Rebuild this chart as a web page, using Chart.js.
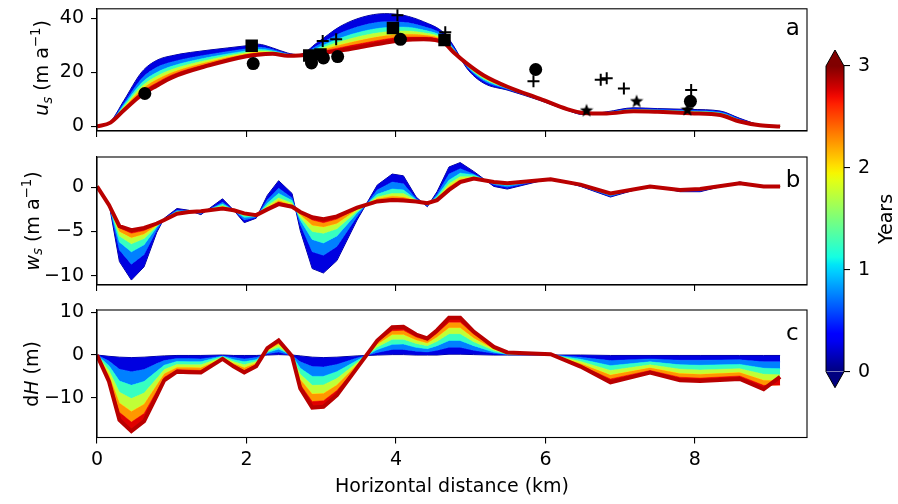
<!DOCTYPE html>
<html>
<head>
<meta charset="utf-8">
<script src="https://cdn.jsdelivr.net/npm/chart.js@4.4.0/dist/chart.umd.min.js"></script>
<style>
  body { margin: 0; background: #fff; }
  #fig { position: relative; width: 898px; height: 504px; overflow: hidden; background: #fff; }
  #fig canvas { position: absolute; }
</style>
</head>
<body>
<div id="fig">
  <canvas id="panel-a" width="830" height="145" style="left:0;top:0"></canvas>
  <canvas id="panel-b" width="830" height="150" style="left:0;top:145px"></canvas>
  <canvas id="panel-c" width="830" height="204" style="left:0;top:300px"></canvas>
  <canvas id="colorbar" width="98" height="420" style="left:800px;top:0"></canvas>
</div>
<script>
// time of each drawn curve (years)
var curveYears = [0, 0.5, 1, 1.5, 2, 2.5, 3];

var xTicks = [0, 2, 4, 6, 8];
var usTicks = [0, 20, 40];
var wsTicks = [-10, -5, 0];
var dhTicks = [-10, 0, 10];
var yearTicks = [0, 1, 2, 3];

// panel a : surface horizontal velocity
var distA = [0, 0.18, 0.36, 0.6, 0.8, 1.0, 1.5, 2.0, 2.15, 2.35, 2.55, 2.7, 2.95, 3.25, 3.55, 3.85, 4.1, 4.37, 4.64, 4.77, 4.95, 5.17, 5.5, 5.93, 6.29, 6.5, 6.82, 7.18, 7.5, 7.94, 8.34, 8.6, 8.87, 9.14];
var usYear0  = [0, 1.8, 9.6, 20.2, 24.5, 26.2, 28.3, 29.9, 30.5, 29.1, 27.2, 26.6, 31.1, 37.0, 40.5, 41.8, 41.2, 38.8, 34.7, 29.9, 21.5, 16.1, 13.4, 9.6, 6.0, 4.4, 5.4, 6.9, 6.6, 6.3, 5.7, 3.0, 0.6, 0];
var usYear05 = [0, 1.7, 8.6, 17.8, 21.9, 23.9, 26.7, 28.8, 29.4, 28.5, 26.9, 26.5, 30.0, 34.5, 37.4, 38.8, 38.6, 37.0, 33.7, 29.2, 22.0, 16.9, 13.7, 9.8, 6.1, 4.6, 5.2, 6.5, 6.3, 5.9, 5.3, 2.7, 0.5, 0];
var usYear1  = [0, 1.6, 7.9, 16.2, 20.0, 22.3, 25.6, 28.0, 28.6, 28.0, 26.7, 26.5, 29.1, 32.7, 35.2, 36.6, 36.8, 35.7, 32.9, 28.7, 22.4, 17.5, 14.0, 9.9, 6.2, 4.7, 5.1, 6.3, 6.0, 5.6, 5.0, 2.4, 0.5, 0];
var usYear15 = [0, 1.5, 7.3, 14.9, 18.6, 21.1, 24.7, 27.4, 28.0, 27.7, 26.6, 26.4, 28.5, 31.4, 33.6, 35.0, 35.4, 34.7, 32.4, 28.4, 22.6, 17.9, 14.2, 10.0, 6.3, 4.8, 5.0, 6.1, 5.8, 5.4, 4.8, 2.2, 0.5, 0];
var usYear2  = [0, 1.5, 6.9, 13.8, 17.4, 20.0, 24.0, 26.9, 27.5, 27.4, 26.4, 26.4, 28.0, 30.2, 32.1, 33.6, 34.2, 33.9, 31.9, 28.1, 22.9, 18.3, 14.3, 10.1, 6.3, 4.9, 4.9, 5.9, 5.7, 5.2, 4.6, 2.1, 0.4, 0];
var usYear25 = [0, 1.4, 6.4, 12.8, 16.2, 19.1, 23.3, 26.5, 27.1, 27.2, 26.3, 26.3, 27.5, 29.2, 30.8, 32.3, 33.1, 33.1, 31.4, 27.8, 23.1, 18.7, 14.5, 10.1, 6.4, 4.9, 4.9, 5.8, 5.5, 5.1, 4.4, 1.9, 0.4, 0];
var usYear3  = [0, 1.4, 6.0, 11.8, 15.1, 18.1, 22.6, 26.0, 26.6, 26.9, 26.2, 26.3, 27.0, 28.1, 29.5, 31.0, 32.0, 32.3, 31.0, 27.5, 23.3, 19.0, 14.6, 10.2, 6.4, 5.0, 4.8, 5.6, 5.4, 4.9, 4.2, 1.8, 0.4, 0];

// observations in panel a
var circleDist = [0.64, 2.09, 2.87, 3.03, 3.22, 4.06, 5.87, 7.94];
var circleUs   = [12.2, 23.3, 23.5, 25.4, 25.9, 32.3, 21.1, 9.3];
var squareDist = [2.07, 2.84, 2.99, 3.96, 4.65];
var squareUs   = [29.9, 26.3, 26.7, 36.5, 32.0];
var plusDist = [3.02, 3.2, 4.02, 4.66, 5.84, 6.74, 6.82, 7.05, 7.95];
var plusUs   = [31.7, 32.3, 41.2, 34.9, 16.7, 17.3, 17.9, 14.1, 13.5];
var starDist = [6.55, 7.22, 7.9];
var starUs   = [6.2, 9.6, 6.5];

// panels b and c share the same nodes
var distBC = [0, 0.16, 0.3, 0.46, 0.63, 0.8, 0.9, 1.07, 1.23, 1.39, 1.68, 1.83, 1.97, 2.13, 2.28, 2.43, 2.61, 2.72, 2.88, 3.03, 3.21, 3.48, 3.75, 3.95, 4.1, 4.27, 4.42, 4.55, 4.71, 4.86, 5.04, 5.31, 5.49, 6.07, 6.47, 6.87, 7.4, 7.8, 8.07, 8.6, 8.92, 9.14];

// panel b : surface vertical velocity
var wsYear0  = [0.1, -1.8, -8.4, -10.5, -9.0, -5.1, -3.5, -2.4, -2.6, -3.1, -1.3, -2.6, -4.0, -3.5, -0.9, 0.75, -0.7, -4.9, -9.2, -9.7, -8.3, -3.7, 0.25, 1.5, 1.3, -1.1, -2.2, -0.5, 2.3, 2.8, 1.8, 0.1, -0.2, 1.0, 0.1, -1.1, 0.2, -0.5, -0.5, 0.6, 0.1, 0.1];
var wsYear05 = [0.1, -1.9, -7.1, -8.7, -7.6, -4.8, -3.6, -2.6, -2.7, -3.0, -1.7, -2.6, -3.7, -3.4, -1.4, -0.1, -1.2, -4.2, -7.3, -7.7, -6.7, -3.3, -0.3, 0.6, 0.4, -1.3, -2.1, -0.8, 1.5, 2.1, 1.5, 0.3, 0.0, 1.0, 0.15, -1.0, 0.17, -0.44, -0.4, 0.55, 0.1, 0.1];
var wsYear1  = [0.1, -1.9, -6.2, -7.3, -6.5, -4.5, -3.6, -2.7, -2.7, -2.9, -1.9, -2.6, -3.4, -3.3, -1.8, -0.7, -1.5, -3.7, -5.9, -6.3, -5.5, -2.9, -0.8, -0.2, -0.3, -1.4, -2.0, -1.0, 0.8, 1.6, 1.4, 0.4, 0.2, 0.95, 0.2, -0.9, 0.15, -0.39, -0.33, 0.52, 0.1, 0.1];
var wsYear15 = [0.1, -1.9, -5.5, -6.4, -5.8, -4.4, -3.6, -2.8, -2.7, -2.8, -2.1, -2.6, -3.2, -3.2, -2.1, -1.2, -1.8, -3.4, -5.0, -5.2, -4.7, -2.7, -1.1, -0.7, -0.7, -1.5, -1.9, -1.2, 0.4, 1.2, 1.2, 0.5, 0.3, 0.9, 0.25, -0.8, 0.13, -0.35, -0.28, 0.49, 0.1, 0.1];
var wsYear2  = [0.1, -2.0, -5.0, -5.7, -5.3, -4.3, -3.7, -2.9, -2.8, -2.8, -2.2, -2.6, -3.1, -3.2, -2.3, -1.5, -2.0, -3.1, -4.3, -4.5, -4.1, -2.5, -1.3, -1.0, -1.1, -1.5, -1.9, -1.3, 0.1, 0.9, 1.1, 0.5, 0.35, 0.9, 0.27, -0.75, 0.12, -0.33, -0.25, 0.47, 0.1, 0.1];
var wsYear25 = [0.1, -2.0, -4.6, -5.2, -4.9, -4.2, -3.7, -3.0, -2.8, -2.7, -2.3, -2.6, -3.0, -3.2, -2.4, -1.7, -2.1, -2.9, -3.7, -4.0, -3.6, -2.4, -1.5, -1.3, -1.3, -1.6, -1.8, -1.4, -0.1, 0.7, 1.0, 0.6, 0.4, 0.9, 0.3, -0.7, 0.1, -0.31, -0.22, 0.46, 0.1, 0.1];
var wsYear3  = [0.1, -2.0, -4.4, -4.85, -4.6, -4.1, -3.7, -3.0, -2.8, -2.7, -2.4, -2.6, -2.95, -3.15, -2.5, -1.9, -2.2, -2.8, -3.4, -3.6, -3.3, -2.3, -1.6, -1.45, -1.5, -1.6, -1.8, -1.45, -0.3, 0.6, 1.0, 0.6, 0.45, 0.9, 0.3, -0.7, 0.1, -0.3, -0.2, 0.45, 0.1, 0.1];

// panel c : surface elevation change
var dhYear0  = [0, -0.3, -0.5, -0.6, -0.5, -0.3, -0.2, -0.1, -0.1, -0.1, 0, -0.1, -0.1, -0.1, 0, 0.1, 0, -0.2, -0.5, -0.6, -0.5, -0.2, 0, 0.1, 0.1, 0, 0, 0, 0.2, 0.2, 0.1, 0, 0, 0, 0, -0.1, -0.1, -0.1, -0.1, -0.1, -0.1, -0.1];
var dhYear05 = [0, -1.4, -3.3, -3.9, -3.4, -2.0, -1.3, -0.8, -0.8, -0.9, -0.2, -0.6, -0.9, -0.6, 0.3, 0.7, -0.1, -1.6, -2.7, -2.8, -2.2, -0.7, 0.6, 1.3, 1.3, 0.9, 0.7, 1.1, 1.8, 1.8, 1.1, 0.4, 0.1, 0.04, -0.5, -1.3, -0.9, -1.2, -1.2, -1.1, -1.6, -1.6];
var dhYear1  = [0, -2.5, -6.1, -7.1, -6.2, -3.8, -2.4, -1.5, -1.6, -1.6, -0.3, -1.1, -1.6, -1.1, 0.6, 1.4, -0.1, -3.1, -5.0, -5.0, -3.9, -1.3, 1.3, 2.5, 2.6, 1.8, 1.5, 2.2, 3.4, 3.4, 2.2, 0.7, 0.2, 0.08, -1.0, -2.5, -1.6, -2.3, -2.4, -2.2, -3.1, -3.2];
var dhYear15 = [0, -3.6, -8.7, -10.2, -8.9, -5.5, -3.4, -2.2, -2.3, -2.3, -0.5, -1.6, -2.3, -1.5, 0.9, 1.9, -0.2, -4.5, -7.1, -7.0, -5.5, -1.8, 1.9, 3.7, 3.7, 2.7, 2.2, 3.2, 5.0, 5.0, 3.1, 1.1, 0.3, 0.1, -1.5, -3.6, -2.3, -3.3, -3.5, -3.2, -4.5, -4.6];
var dhYear2  = [0, -4.6, -11.2, -13.2, -11.5, -7.0, -4.4, -2.9, -2.9, -3.0, -0.7, -2.0, -3.0, -1.9, 1.2, 2.5, -0.2, -5.7, -9.1, -9.0, -7.0, -2.2, 2.5, 4.8, 4.8, 3.5, 2.8, 4.2, 6.4, 6.4, 4.0, 1.4, 0.4, 0.15, -2.0, -4.7, -3.0, -4.3, -4.5, -4.1, -5.9, -6.0];
var dhYear25 = [0, -5.5, -13.4, -15.7, -13.7, -8.4, -5.2, -3.4, -3.5, -3.6, -0.8, -2.4, -3.6, -2.3, 1.4, 3.0, -0.3, -6.9, -10.9, -10.7, -8.3, -2.7, 3.0, 5.7, 5.8, 4.2, 3.4, 5.1, 7.7, 7.7, 4.9, 1.7, 0.5, 0.18, -2.4, -5.6, -3.6, -5.2, -5.4, -4.9, -7.1, -7.0];
var dhYear3  = [0, -6.2, -15.2, -17.8, -15.5, -9.5, -5.9, -3.9, -4.0, -4.1, -0.9, -2.7, -4.1, -2.6, 1.6, 3.4, -0.3, -7.8, -12.3, -12.1, -9.4, -3.0, 3.4, 6.5, 6.6, 4.8, 3.9, 5.8, 8.7, 8.7, 5.5, 1.9, 0.6, 0.2, -2.7, -6.4, -4.1, -5.9, -6.1, -5.6, -8.0, -5.1];


Chart.defaults.font.family = '"DejaVu Sans", sans-serif';
Chart.defaults.font.size = 19;
Chart.defaults.color = '#000';

// matplotlib "jet" colormap, v in 0..1
function jet(v) {
    function seg(pts) {
        for (var i = 1; i < pts.length; i++) {
            if (v <= pts[i][0]) {
                var a = pts[i - 1], b = pts[i];
                return a[1] + (b[1] - a[1]) * (v - a[0]) / (b[0] - a[0]);
            }
        }
        return pts[pts.length - 1][1];
    }
    var r = seg([[0, 0], [0.35, 0], [0.66, 1], [0.89, 1], [1, 0.5]]);
    var g = seg([[0, 0], [0.125, 0], [0.375, 1], [0.64, 1], [0.91, 0], [1, 0]]);
    var b = seg([[0, 0.5], [0.11, 1], [0.34, 1], [0.65, 0], [1, 0]]);
    return "rgb(" + Math.round(r * 255) + "," + Math.round(g * 255) + "," + Math.round(b * 255) + ")";
}

function minus(v) {
    return String(v).replace("-", "\u2212");
}

function toPoints(xs, ys) {
    return xs.map(function (x, i) { return { x: x, y: ys[i] }; });
}

function makeStar(size) {
    var c = document.createElement("canvas");
    c.width = size;
    c.height = size;
    var g = c.getContext("2d");
    var R = size / 2, r = R * 0.42, cx = size / 2, cy = size / 2 + 1;
    g.beginPath();
    for (var k = 0; k < 10; k++) {
        var ang = -Math.PI / 2 + k * Math.PI / 5;
        var rad = k % 2 ? r : R;
        g.lineTo(cx + rad * Math.cos(ang), cy + rad * Math.sin(ang));
    }
    g.closePath();
    g.fillStyle = "#000";
    g.fill();
    return c;
}

// text with italic / sub / sup parts, optionally rotated
function drawRich(ctx, item) {
    var size = item.size;
    ctx.save();
    ctx.translate(item.x, item.y);
    if (item.rot) ctx.rotate(-Math.PI / 2);
    ctx.fillStyle = "#000";
    ctx.textBaseline = "alphabetic";
    ctx.textAlign = "left";
    function fontFor(p) {
        var s = (p.sub || p.sup) ? size * 0.7 : size;
        return (p.italic ? "italic " : "") + s + 'px "DejaVu Sans"';
    }
    var widths = [], total = 0;
    item.parts.forEach(function (p) {
        ctx.font = fontFor(p);
        var w = ctx.measureText(p.t).width;
        widths.push(w);
        total += w;
    });
    var x = -total / 2;
    item.parts.forEach(function (p, i) {
        ctx.font = fontFor(p);
        var dy = p.sub ? size * 0.2 : (p.sup ? -size * 0.42 : 0);
        ctx.fillText(p.t, x, dy);
        x += widths[i];
    });
    ctx.restore();
}

function textPlugin(items) {
    return {
        id: "figText",
        afterDraw: function (chart) {
            items.forEach(function (it) { drawRich(chart.ctx, it); });
        }
    };
}

var boxPlugin = {
    id: "box",
    afterDatasetsDraw: function (chart) {
        var a = chart.chartArea, ctx = chart.ctx;
        ctx.save();
        ctx.strokeStyle = "#000";
        ctx.lineWidth = 1.1;
        ctx.strokeRect(a.left, a.top, a.right - a.left, a.bottom - a.top);
        ctx.restore();
    }
};

function makePanel(id, opt) {
    var n = opt.curves.length;
    var datasets = opt.curves.map(function (vals, i) {
        var last = i === n - 1;
        return {
            data: toPoints(opt.dist, vals),
            borderColor: last ? jet(0.95) : jet(curveYears[i] / 3),
            borderWidth: last ? 4 : 1,
            backgroundColor: i > 0 ? jet((curveYears[i - 1] + curveYears[i]) / 6) : "rgba(0,0,0,0)",
            fill: i > 0 ? "-1" : false,
            pointRadius: 0,
            cubicInterpolationMode: opt.smooth ? "monotone" : "default",
            tension: 0,
            order: 20 - i
        };
    });
    (opt.markers || []).forEach(function (m) { datasets.push(m); });

    return new Chart(id, {
        type: "line",
        data: { datasets: datasets },
        options: {
            responsive: false,
            animation: false,
            events: [],
            layout: { padding: { left: 0, right: 23, top: opt.padTop, bottom: 0 } },
            plugins: { legend: { display: false }, tooltip: { enabled: false } },
            scales: {
                x: {
                    type: "linear",
                    min: 0,
                    max: 9.5,
                    afterBuildTicks: function (s) { s.ticks = xTicks.map(function (v) { return { value: v }; }); },
                    afterFit: function (s) { s.height = opt.xHeight; s.paddingLeft = 0; s.paddingRight = 0; },
                    grid: { drawOnChartArea: false, drawTicks: true, tickLength: 6, color: "#000", lineWidth: 1.1 },
                    border: { color: "#000", width: 1.1 },
                    ticks: { display: !!opt.xLabels, padding: 5, maxRotation: 0 },
                    title: {
                        display: !!opt.xLabels,
                        text: "Horizontal distance (km)",
                        padding: { top: 0, bottom: 6 }
                    }
                },
                y: {
                    min: opt.yMin,
                    max: opt.yMax,
                    afterBuildTicks: function (s) { s.ticks = opt.yTicks.map(function (v) { return { value: v }; }); },
                    afterFit: function (s) { s.width = 97; s.paddingTop = 0; s.paddingBottom = 0; },
                    grid: { drawOnChartArea: false, drawTicks: true, tickLength: 6, color: "#000", lineWidth: 1.1 },
                    border: { color: "#000", width: 1.1 },
                    ticks: { padding: 7, callback: function (v) { return minus(v); } }
                }
            }
        },
        plugins: [boxPlugin, textPlugin(opt.texts)]
    });
}

var star = makeStar(14);

makePanel("panel-a", {
    dist: distA,
    curves: [usYear0, usYear05, usYear1, usYear15, usYear2, usYear25, usYear3],
    smooth: true,
    yMin: -1.7, yMax: 43.6, yTicks: usTicks,
    padTop: 5, xHeight: 14,
    markers: [
        { data: toPoints(circleDist, circleUs), showLine: false, pointStyle: "circle", pointRadius: 6.5, backgroundColor: "#000", borderColor: "#000", borderWidth: 0, order: 0 },
        { data: toPoints(squareDist, squareUs), showLine: false, pointStyle: "rect", pointRadius: 8.8, backgroundColor: "#000", borderColor: "#000", borderWidth: 0, order: 0 },
        { data: toPoints(plusDist, plusUs), showLine: false, pointStyle: "cross", pointRadius: 6, backgroundColor: "#000", borderColor: "#000", borderWidth: 2, order: 0 },
        { data: toPoints(starDist, starUs), showLine: false, pointStyle: star, pointRadius: 7, backgroundColor: "#000", borderColor: "#000", order: 0 }
    ],
    texts: [
        { x: 48.3, y: 68, rot: true, size: 19, parts: [{ t: "u", italic: true }, { t: "s", italic: true, sub: true }, { t: " (m a" }, { t: "\u22121", sup: true }, { t: ")" }] },
        { x: 792.7, y: 35, size: 23, parts: [{ t: "a" }] }
    ]
});

makePanel("panel-b", {
    dist: distBC,
    curves: [wsYear0, wsYear05, wsYear1, wsYear15, wsYear2, wsYear25, wsYear3],
    yMin: -11.06, yMax: 3.43, yTicks: wsTicks,
    padTop: 12, xHeight: 10,
    texts: [
        { x: 38.5, y: 76, rot: true, size: 19, parts: [{ t: "w", italic: true }, { t: "s", italic: true, sub: true }, { t: " (m a" }, { t: "\u22121", sup: true }, { t: ")" }] },
        { x: 793, y: 42.3, size: 23, parts: [{ t: "b" }] }
    ]
});

makePanel("panel-c", {
    dist: distBC,
    curves: [dhYear0, dhYear05, dhYear1, dhYear15, dhYear2, dhYear25, dhYear3],
    yMin: -19.3, yMax: 10.54, yTicks: dhTicks,
    padTop: 10, xHeight: 66.5, xLabels: true,
    texts: [
        { x: 38.3, y: 74, rot: true, size: 19, parts: [{ t: "d" }, { t: "H", italic: true }, { t: " (m)" }] },
        { x: 792.3, y: 40, size: 23, parts: [{ t: "c" }] }
    ]
});

// colorbar with extension triangles
var colorbarPlugin = {
    id: "cbarExt",
    afterDatasetsDraw: function (chart) {
        var a = chart.chartArea, ctx = chart.ctx;
        var cx = (a.left + a.right) / 2, ext = 16;
        ctx.save();
        ctx.fillStyle = jet(1);
        ctx.beginPath();
        ctx.moveTo(a.left, a.top); ctx.lineTo(cx, a.top - ext); ctx.lineTo(a.right, a.top);
        ctx.closePath(); ctx.fill();
        ctx.fillStyle = jet(0);
        ctx.beginPath();
        ctx.moveTo(a.left, a.bottom); ctx.lineTo(cx, a.bottom + ext); ctx.lineTo(a.right, a.bottom);
        ctx.closePath(); ctx.fill();
        ctx.strokeStyle = "#000";
        ctx.lineWidth = 1;
        ctx.beginPath();
        ctx.moveTo(a.left, a.bottom); ctx.lineTo(cx, a.bottom + ext); ctx.lineTo(a.right, a.bottom);
        ctx.lineTo(a.right, a.top); ctx.lineTo(cx, a.top - ext); ctx.lineTo(a.left, a.top);
        ctx.closePath(); ctx.stroke();
        ctx.restore();
    }
};

new Chart("colorbar", {
    type: "bar",
    data: {
        labels: [""],
        datasets: [{
            data: [[yearTicks[0], yearTicks[yearTicks.length - 1]]],
            backgroundColor: function (c) {
                var area = c.chart.chartArea;
                if (!area) return "#888";
                var grad = c.chart.ctx.createLinearGradient(0, area.bottom, 0, area.top);
                for (var k = 0; k <= 40; k++) grad.addColorStop(k / 40, jet(k / 40));
                return grad;
            },
            borderWidth: 0,
            barPercentage: 1,
            categoryPercentage: 1
        }]
    },
    options: {
        responsive: false,
        animation: false,
        events: [],
        layout: { padding: { left: 26, right: 0, top: 66, bottom: 48.3 } },
        plugins: { legend: { display: false }, tooltip: { enabled: false } },
        scales: {
            x: { display: false },
            y: {
                position: "right",
                min: 0,
                max: 3,
                afterBuildTicks: function (s) { s.ticks = yearTicks.map(function (v) { return { value: v }; }); },
                afterFit: function (s) { s.width = 54; s.paddingTop = 0; s.paddingBottom = 0; },
                grid: { drawOnChartArea: false, drawTicks: true, tickLength: 6, color: "#000", lineWidth: 1.1 },
                border: { display: false },
                ticks: { padding: 8 }
            }
        }
    },
    plugins: [colorbarPlugin, textPlugin([
        { x: 91.7, y: 219, rot: true, size: 19, parts: [{ t: "Years" }] }
    ])]
});
</script>
</body>
</html>
